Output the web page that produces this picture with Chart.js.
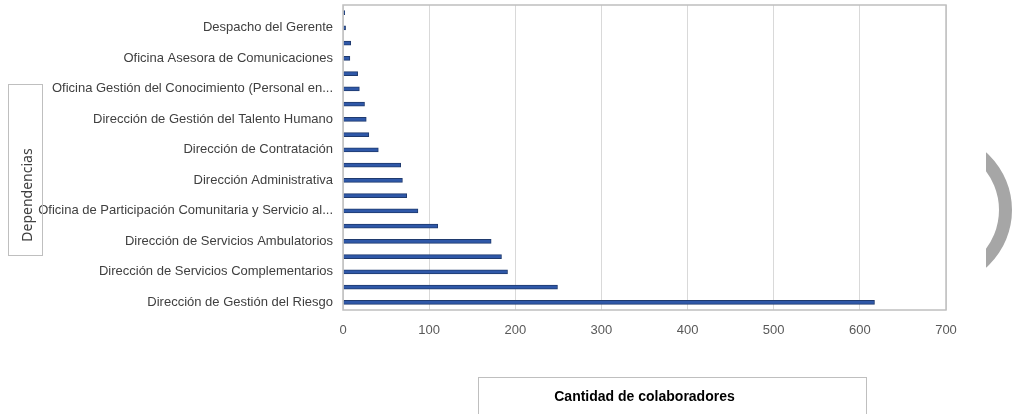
<!DOCTYPE html>
<html>
<head>
<meta charset="utf-8">
<script src="https://cdn.jsdelivr.net/npm/chart.js@4.4.1/dist/chart.umd.min.js"></script>
<style>
  html, body { margin: 0; padding: 0; background: #ffffff; }
  #wrap { width: 1013px; height: 414px; position: relative; }
</style>
</head>
<body>
<div id="wrap"><canvas id="chart1"></canvas></div>
<script>
// categories from bottom (first) to top (last); unreadable names left empty
const dependencias = [
    'Dirección de Gestión del Riesgo',
    '',
    'Dirección de Servicios Complementarios',
    '',
    'Dirección de Servicios Ambulatorios',
    '',
    'Oficina de Participación Comunitaria y Servicio al...',
    '',
    'Dirección Administrativa',
    '',
    'Dirección de Contratación',
    '',
    'Dirección de Gestión del Talento Humano',
    '',
    'Oficina Gestión del Conocimiento (Personal en...',
    '',
    'Oficina Asesora de Comunicaciones',
    '',
    'Despacho del Gerente',
    ''
];
const colaboradores = [617, 249, 191, 184, 172, 110, 87, 74, 69, 67, 41, 30, 27, 25, 19, 17, 8, 9, 3, 2];
const xTicks = [0, 100, 200, 300, 400, 500, 600, 700];

const yTitle = 'Dependencias';
const xTitle = 'Cantidad de colaboradores';

// plot border, title boxes, y title (bottom aligned in its box) and the grey arc
const decoPlugin = {
    id: 'deco',
    afterDraw(chart) {
        const ctx = chart.ctx;
        const a = chart.chartArea;
        ctx.save();
        ctx.strokeStyle = '#bfbfbf';
        ctx.lineWidth = 1.5;
        ctx.strokeRect(a.left, a.top, a.right - a.left, a.bottom - a.top);

        ctx.lineWidth = 1;
        ctx.strokeStyle = '#bfbfbf';
        ctx.strokeRect(8.5, 84.5, 34, 171);
        ctx.strokeRect(478.5, 377.5, 388, 40);

        ctx.save();
        ctx.translate(28, 195);
        ctx.rotate(-Math.PI / 2);
        ctx.fillStyle = '#404040';
        ctx.font = '14px "Noto Sans", sans-serif';
        ctx.textAlign = 'center';
        ctx.textBaseline = 'middle';
        ctx.fillText(yTitle, 0, 0);
        ctx.restore();

        // decorative ring piece
        ctx.beginPath();
        ctx.rect(986, 0, 40, 414);
        ctx.clip();
        ctx.beginPath();
        ctx.arc(935, 210, 77, 0, Math.PI * 2);
        ctx.arc(935, 210, 64, 0, Math.PI * 2, true);
        ctx.fillStyle = '#a6a6a6';
        ctx.fill();
        ctx.restore();
    }
};

const ctx = document.getElementById('chart1').getContext('2d');
new Chart(ctx, {
    type: 'bar',
    data: {
        labels: dependencias,
        datasets: [{
            label: xTitle,
            data: colaboradores,
            backgroundColor: '#2f58a8',
            borderColor: '#1f3a6e',
            borderWidth: 1,
            barThickness: 4
        }]
    },
    options: {
        indexAxis: 'y',
        responsive: true,
        maintainAspectRatio: false,
        animation: false,
        layout: {
            padding: { top: 5, right: 67, left: 0, bottom: 0 }
        },
        plugins: {
            legend: { display: false },
            tooltip: { enabled: false }
        },
        scales: {
            x: {
                min: 0,
                max: 700,
                afterBuildTicks: function (scale) {
                    scale.ticks = xTicks.map(v => ({ value: v }));
                },
                afterFit: function (scale) {
                    scale.height = 104;
                },
                grid: {
                    color: '#d9d9d9',
                    lineWidth: 1,
                    drawTicks: false
                },
                border: { display: false },
                ticks: {
                    color: '#595959',
                    padding: 13,
                    font: { family: 'Liberation Sans Narrow, Arial Narrow, sans-serif', size: 13 }
                },
                title: {
                    display: true,
                    text: xTitle,
                    color: '#000000',
                    font: { family: 'Liberation Sans Narrow, Arial Narrow, sans-serif', size: 14, weight: 'bold' },
                    padding: { top: 0, bottom: 8 }
                }
            },
            y: {
                reverse: true,
                afterFit: function (scale) {
                    scale.width = 343;
                    scale.paddingTop = 0;
                    scale.paddingBottom = 0;
                },
                grid: { display: false, drawTicks: false },
                border: { display: false },
                ticks: {
                    autoSkip: false,
                    color: '#404040',
                    padding: 10,
                    font: { family: 'Liberation Sans Narrow, Arial Narrow, sans-serif', size: 13 }
                }
            }
        }
    },
    plugins: [decoPlugin]
});
</script>
</body>
</html>
